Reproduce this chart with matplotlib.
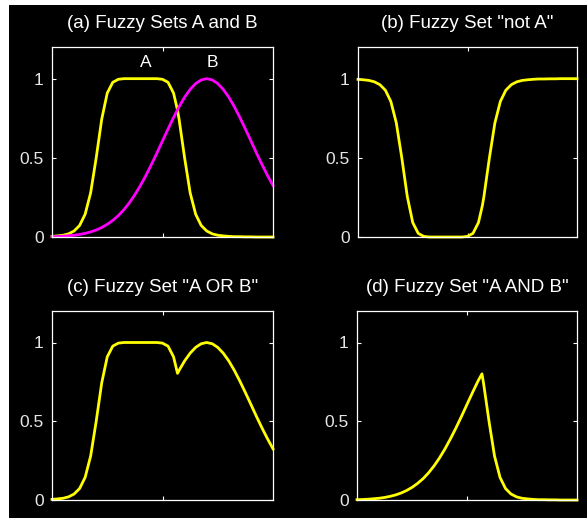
import matplotlib
matplotlib.use("Agg")
import matplotlib.pyplot as plt
from matplotlib.patches import Rectangle

# membership values (x runs 0..10)
x = [0, 0.25, 0.5, 0.75, 1, 1.25, 1.5, 1.75, 2, 2.25, 2.5, 2.75, 3, 3.25, 3.5, 3.75,
     4, 4.25, 4.5, 4.75, 5, 5.25, 5.5, 5.68, 5.75, 6, 6.25, 6.5, 6.75, 7, 7.25, 7.5,
     7.75, 8, 8.25, 8.5, 8.75, 9, 9.25, 9.5, 9.75, 10]

set_a = [0.004, 0.007, 0.011, 0.020, 0.038, 0.073, 0.144, 0.280, 0.500, 0.744, 0.909,
         0.977, 0.996, 1.000, 1.000, 1.000, 1.000, 1.000, 1.000, 1.000, 0.996, 0.977,
         0.909, 0.801, 0.744, 0.500, 0.280, 0.144, 0.073, 0.038, 0.020, 0.011, 0.007,
         0.004, 0.002, 0.002, 0.001, 0.001, 0.000, 0.000, 0.000, 0.000]

set_b = [0.002, 0.003, 0.005, 0.008, 0.011, 0.016, 0.023, 0.032, 0.044, 0.060, 0.080,
         0.105, 0.135, 0.172, 0.216, 0.267, 0.325, 0.389, 0.458, 0.531, 0.607, 0.682,
         0.755, 0.804, 0.823, 0.883, 0.932, 0.969, 0.992, 1.000, 0.992, 0.969, 0.932,
         0.883, 0.823, 0.755, 0.682, 0.607, 0.531, 0.458, 0.389, 0.325]

not_a = [0.996, 0.993, 0.989, 0.980, 0.962, 0.927, 0.856, 0.720, 0.500, 0.256, 0.091,
         0.023, 0.004, 0.000, 0.000, 0.000, 0.000, 0.000, 0.000, 0.000, 0.004, 0.023,
         0.091, 0.199, 0.256, 0.500, 0.720, 0.856, 0.927, 0.962, 0.980, 0.989, 0.993,
         0.996, 0.998, 0.998, 0.999, 0.999, 1.000, 1.000, 1.000, 1.000]

a_or_b = [0.004, 0.007, 0.011, 0.020, 0.038, 0.073, 0.144, 0.280, 0.500, 0.744, 0.909,
          0.977, 0.996, 1.000, 1.000, 1.000, 1.000, 1.000, 1.000, 1.000, 0.996, 0.977,
          0.909, 0.804, 0.823, 0.883, 0.932, 0.969, 0.992, 1.000, 0.992, 0.969, 0.932,
          0.883, 0.823, 0.755, 0.682, 0.607, 0.531, 0.458, 0.389, 0.325]

a_and_b = [0.002, 0.003, 0.005, 0.008, 0.011, 0.016, 0.023, 0.032, 0.044, 0.060, 0.080,
           0.105, 0.135, 0.172, 0.216, 0.267, 0.325, 0.389, 0.458, 0.531, 0.607, 0.682,
           0.755, 0.801, 0.744, 0.500, 0.280, 0.144, 0.073, 0.038, 0.020, 0.011, 0.007,
           0.004, 0.002, 0.002, 0.001, 0.001, 0.000, 0.000, 0.000, 0.000]

titles = ['(a) Fuzzy Sets A and B', '(b) Fuzzy Set "not A"',
          '(c) Fuzzy Set "A OR B"', '(d) Fuzzy Set "A AND B"']

plt.rcParams['font.family'] = ['Liberation Sans', 'DejaVu Sans']

W, H = 587, 518
fig = plt.figure(figsize=(W / 100, H / 100), dpi=100, facecolor='white')
fig.patches.append(Rectangle((9 / W, 0), 1, 1 - 5 / H, transform=fig.transFigure,
                             facecolor='black', edgecolor='none', zorder=-1))

# axes boxes in pixels: left, top, right, bottom
boxes = [(52, 47, 273, 237), (358, 47, 577, 237),
         (52, 311, 273, 500), (357, 311, 577, 500)]
axes = []
for (l, t, r, b), title in zip(boxes, titles):
    ax = fig.add_axes([l / W, (H - b) / H, (r - l) / W, (b - t) / H])
    ax.set_facecolor('black')
    for s in ax.spines.values():
        s.set_color('white')
        s.set_linewidth(0.9)
    ax.set_xlim(0, 10)
    ax.set_ylim(0, 1.2)
    ax.set_xticks([5])
    ax.set_xticklabels([])
    ax.set_yticks([0, 0.5, 1])
    ax.set_yticklabels(['0', '0.5', '1'])
    ax.tick_params(direction='in', length=3, width=0.8, color='white',
                   labelcolor='#e6e6e6', labelsize=12.5, top=True, right=True, pad=6)
    ax.set_title(title, color='white', fontsize=13.5, pad=13.5)
    axes.append(ax)

yellow = '#ffff00'
magenta = '#ff00ff'
lw = 2.0

axes[0].plot(x, set_a, color=yellow, lw=lw, clip_on=False)
axes[0].plot(x, set_b, color=magenta, lw=lw, clip_on=False)
axes[0].text(4, 1.1, 'A', color='white', fontsize=12.5, ha='left', va='center')
axes[0].text(7, 1.1, 'B', color='white', fontsize=12.5, ha='left', va='center')

axes[1].plot(x, not_a, color=yellow, lw=lw, clip_on=False)
axes[2].plot(x, a_or_b, color=yellow, lw=lw, clip_on=False)
axes[3].plot(x, a_and_b, color=yellow, lw=lw, clip_on=False)

fig.savefig('out.png', dpi=100, facecolor=fig.get_facecolor())
